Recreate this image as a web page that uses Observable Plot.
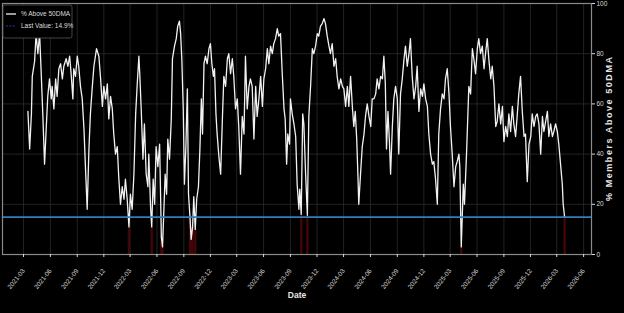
<!DOCTYPE html>
<html>
<head>
<meta charset="utf-8">
<script src="https://cdn.jsdelivr.net/npm/d3@7"></script>
<script src="https://cdn.jsdelivr.net/npm/@observablehq/plot@0.6"></script>
<style>
  html, body { margin: 0; padding: 0; background: #000; }
  #chart { width: 624px; height: 313px; overflow: hidden; }
</style>
</head>
<body>
<div id="chart"></div>
<script>
// ---- data ----
const seriesOrigin = "2021-03-01";           // day 0 of the offsets below
const seriesName = "% Above 50DMA";
const yAxisLabel = "% Members Above 50DMA";
const xAxisLabel = "Date";
// [days since seriesOrigin, % of members above 50-day moving average]
const readings = [[15,57],[21,42],[27,56],[30,71],[38,77],[43,88],[49,80],[55,88],[61,71],[66,56],[72,36],[78,51],[83,63],[89,70],[95,62],[98,67],[104,58],[110,70],[115,63],[121,74],[127,76],[133,70],[138,75],[146,78],[152,75],[158,79],[163,72],[169,62],[172,74],[178,71],[184,79],[189,75],[195,67],[201,62],[207,50],[212,35],[218,18],[224,42],[229,56],[235,66],[241,75],[250,82],[258,79],[264,70],[270,59],[275,67],[281,62],[287,68],[292,54],[298,63],[304,58],[309,48],[315,40],[321,43],[326,31],[332,20],[338,27],[344,22],[349,30],[355,22],[361,11],[366,24],[372,18],[378,32],[384,56],[389,67],[395,79],[398,72],[403,58],[409,38],[414,52],[420,32],[426,27],[429,40],[435,19],[439,11],[444,30],[449,20],[454,43],[460,35],[466,44],[472,7],[476,3],[481,19],[485,32],[490,24],[494,46],[500,38],[506,54],[510,78],[517,83],[523,86],[528,91],[534,93],[538,88],[542,78],[547,58],[551,28],[556,43],[561,66],[565,24],[570,15],[574,6],[579,11],[583,23],[588,10],[593,22],[599,27],[604,42],[609,62],[613,48],[618,76],[623,79],[629,76],[635,82],[640,84],[645,76],[650,71],[654,74],[659,56],[663,48],[669,39],[675,32],[681,54],[686,71],[692,67],[698,78],[703,80],[709,72],[715,78],[720,71],[726,58],[732,62],[737,51],[743,32],[749,55],[755,48],[760,79],[766,58],[772,67],[777,70],[783,67],[789,46],[795,67],[800,55],[806,62],[812,71],[818,59],[823,70],[829,74],[835,82],[840,76],[846,83],[852,80],[857,84],[863,86],[869,90],[874,87],[880,88],[886,72],[892,58],[896,54],[901,36],[905,48],[911,44],[914,62],[920,56],[926,52],[932,47],[937,28],[943,18],[946,26],[951,16],[956,56],[960,52],[966,32],[972,15.6],[977,55],[983,67],[989,82],[994,80],[1000,83],[1006,88],[1011,87],[1017,91],[1023,92],[1029,94],[1034,92],[1040,87],[1046,83],[1051,80],[1057,84],[1063,75],[1069,78],[1074,71],[1080,66],[1086,70],[1092,67],[1097,66],[1103,59],[1109,67],[1114,59],[1120,71],[1126,59],[1131,51],[1136,57],[1141,46],[1145,32],[1148,20],[1154,32],[1160,43],[1166,48],[1171,55],[1177,60],[1183,55],[1189,51],[1194,62],[1200,62],[1206,64],[1211,70],[1217,66],[1223,71],[1229,70],[1234,79],[1239,68],[1243,42],[1248,57],[1253,45],[1257,32],[1263,51],[1268,62],[1274,67],[1280,62],[1285,40],[1291,64],[1297,70],[1303,78],[1308,83],[1314,75],[1320,80],[1325,86],[1331,71],[1337,62],[1343,67],[1348,75],[1354,57],[1360,66],[1366,63],[1371,68],[1377,62],[1383,59],[1388,48],[1394,40],[1400,36],[1405,37],[1411,30],[1417,20],[1422,48],[1428,58],[1434,64],[1440,62],[1445,70],[1451,74],[1457,64],[1462,51],[1468,40],[1474,27],[1480,35],[1485,37],[1491,40],[1494,35],[1499,3],[1506,28],[1510,20],[1517,40],[1525,67],[1531,64],[1537,82],[1542,78],[1548,72],[1554,82],[1559,86],[1565,80],[1571,83],[1577,74],[1582,80],[1588,86],[1594,77],[1600,70],[1605,75],[1611,67],[1617,51],[1622,53],[1628,60],[1634,52],[1640,59],[1645,45],[1651,51],[1657,47],[1662,56],[1668,49],[1674,59],[1679,52],[1685,47],[1691,56],[1696,64],[1702,71],[1708,57],[1714,47],[1719,48],[1725,29],[1731,44],[1737,47],[1742,56],[1748,51],[1754,55],[1759,56],[1765,52],[1771,40],[1777,55],[1782,49],[1788,53],[1794,57],[1799,47],[1805,52],[1811,47],[1816,49],[1822,52],[1828,49],[1833,44],[1839,36],[1845,28],[1848,20],[1853,14.9]];
const xTickLabels = ["2021-03","2021-06","2021-09","2021-12","2022-03","2022-06","2022-09","2022-12","2023-03","2023-06","2023-09","2023-12","2024-03","2024-06","2024-09","2024-12","2025-03","2025-06","2025-09","2025-12","2026-03","2026-06"];
const yTicks = [0, 20, 40, 60, 80, 100];
const xDomain = ["2020-12-19", "2026-06-28"];
const lowZone = 16; // readings at or below this are shaded red

// ---- build ----
const origin = new Date(seriesOrigin + "T00:00:00Z");
const series = readings.map(([d, v]) => ({date: d3.utcDay.offset(origin, d), value: v}));
const lastValue = series[series.length - 1].value;
const parseMonth = d3.utcParse("%Y-%m");
const xTicks = xTickLabels.map(parseMonth);
const low = series.filter(d => d.value <= lowZone);
const font = "'Liberation Sans', Arial, sans-serif";

const chart = Plot.plot({
  width: 624,
  height: 313,
  marginLeft: 2,
  marginRight: 33,
  marginTop: 3,
  marginBottom: 59,
  style: {background: "#000", color: "#d8d8d8", fontFamily: font, fontSize: "6.5px", overflow: "visible"},
  x: {type: "utc", domain: xDomain.map(s => new Date(s + "T00:00:00Z"))},
  y: {domain: [0, 100]},
  marks: [
    Plot.gridX(xTicks, {stroke: "#2b2b2b", strokeOpacity: 1, strokeWidth: 0.8}),
    Plot.gridY(yTicks.slice(1, -1), {stroke: "#2b2b2b", strokeOpacity: 1, strokeWidth: 0.8}),
    Plot.ruleX(low, {x: "date", y1: 0, y2: "value", stroke: "#420606", strokeWidth: 2.4}),
    Plot.line(series, {x: "date", y: "value", stroke: "#f2f2f2", strokeWidth: 1.3}),
    Plot.ruleY([lastValue], {stroke: "#2e7fbf", strokeWidth: 1.8}),
    Plot.frame({stroke: "#8a8a8a", strokeWidth: 1.2}),
    Plot.axisX(xTicks, {
      tickFormat: d3.utcFormat("%Y-%m"),
      tickRotate: -52,
      tickSize: 3,
      tickPadding: 12,
      fontSize: 6.5,
      label: null
    }),
    Plot.axisY(yTicks, {anchor: "right", tickSize: 3, tickPadding: 2, fontSize: 6.5, label: null}),
    Plot.text([xAxisLabel], {frameAnchor: "bottom", dy: 43, fontWeight: "bold", fontSize: 8.5, fill: "#e6e6e6"}),
    Plot.text([yAxisLabel], {frameAnchor: "right", textAnchor: "middle", dx: 18, rotate: -90, fontWeight: "bold", fontSize: 9, fill: "#e6e6e6"})
  ]
});

const svg = d3.select(chart);
// stretch the rotated axis title along its length, as in the reference
svg.selectAll("text").filter(function () { return this.textContent === yAxisLabel; })
  .attr("textLength", 144).attr("lengthAdjust", "spacing");

// legend
const lg = svg.append("g").attr("font-family", font).attr("font-size", 6.5).attr("text-anchor", "start");
lg.append("rect").attr("x", 3).attr("y", 5).attr("width", 69).attr("height", 33).attr("rx", 2)
  .attr("fill", "#000").attr("stroke", "#555").attr("stroke-width", 0.8);
lg.append("line").attr("x1", 6).attr("x2", 16).attr("y1", 14).attr("y2", 14).attr("stroke", "#f0f0f0").attr("stroke-width", 1.3);
lg.append("text").attr("x", 21).attr("y", 14).attr("dy", "0.35em").attr("fill", "#dcdcdc").text(seriesName);
lg.append("line").attr("x1", 6).attr("x2", 16).attr("y1", 26).attr("y2", 26).attr("stroke", "#2436a8").attr("stroke-width", 1.1).attr("stroke-dasharray", "2,1.3");
lg.append("text").attr("x", 21).attr("y", 26).attr("dy", "0.35em").attr("fill", "#dcdcdc").text(`Last Value: ${lastValue}%`);

document.getElementById("chart").appendChild(chart);
</script>
</body>
</html>
